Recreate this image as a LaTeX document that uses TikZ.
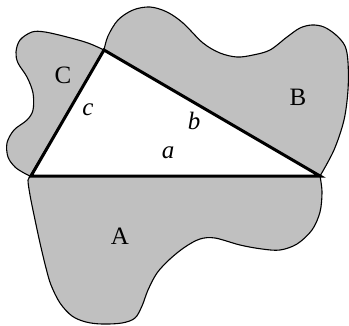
\documentclass[tikz,border=0pt]{standalone}
\usepackage{fontspec}
\setmainfont{Liberation Serif}
\begin{document}
\begin{tikzpicture}[x=1pt,y=-1pt,
  blob/.style={fill=regiongray,draw=black,line width=1.1pt,line join=round},
  side/.style={draw=black,line width=3pt,line join=miter},
  lbl/.style={font=\fontsize{25}{29}\selectfont,inner sep=0pt},
  slbl/.style={font=\fontsize{25}{29}\selectfont\itshape,inner sep=0pt}]
\definecolor{regiongray}{HTML}{C0C0C0}
\useasboundingbox (0,0) rectangle (349,325);
\coordinate (L) at (31,176);
\coordinate (T) at (104,50);
\coordinate (R) at (320,176);
% region C
\filldraw[blob] plot[smooth,tension=0.55] coordinates {(104,50) (88,43) (67,37) (45,32) (32,32) (20,40) (16,52) (18,63) (27,77) (33,93) (33,110) (27,120) (14,130) (7,143) (8,157) (15,167) (24,173) (30,176)} -- (T);
% region B
\filldraw[blob] plot[smooth,tension=0.55] coordinates {(104,50) (108,36) (118,20) (133,10) (150,7) (167,12) (183,23) (203,43) (220,53) (237,57) (253,55) (270,50) (287,37) (300,28) (312,25) (324,27) (336,35) (345,46) (348,62) (348,90) (344,120) (334,150) (320,176)} -- (T);
% region A
\filldraw[blob] plot[smooth,tension=0.55] coordinates {(31,176) (28,180) (30,195) (34,215) (40,243) (46,268) (51,285) (60,303) (72,316) (86,322) (102,324) (122,323) (135,318) (142,306) (148,290) (157,273) (170,259) (185,247) (200,239) (215,238) (240,245) (262,249) (280,250) (297,244) (312,230) (320,212) (322,192) (320,176)} -- (L);
% triangle
\draw[side] (L) -- (T) -- (R) -- cycle;
% labels
\node[lbl] (lC) at (63,75) {C};
\node[lbl] (lB) at (298,97) {B};
\node[lbl] (lA) at (120,236) {A};
\node[slbl] (lc) at (88,110) {c};
\node[slbl] (lb) at (194,121) {b};
\node[slbl] (la) at (168,153) {a};
\end{tikzpicture}
\end{document}
